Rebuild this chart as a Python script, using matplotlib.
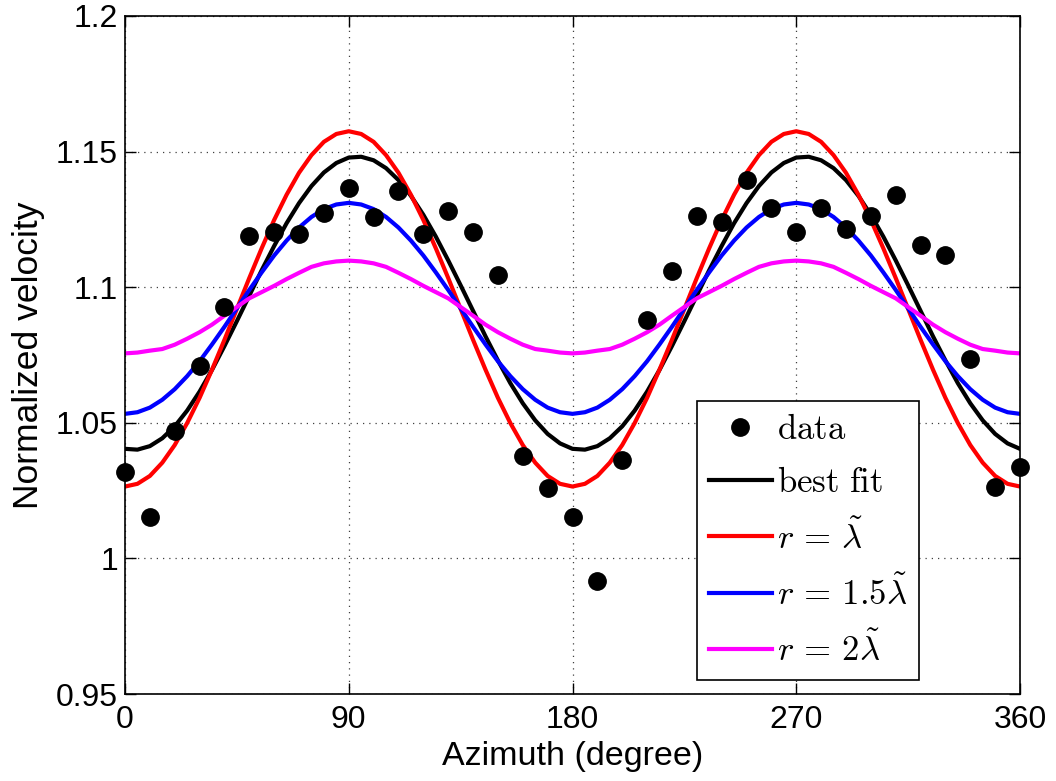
import numpy as np
import matplotlib
matplotlib.use("Agg")
import matplotlib.pyplot as plt

# ---------------- data ----------------
data_azimuth = [0, 10, 20, 30, 40, 50, 60, 70, 80, 90, 100, 110, 120, 130, 140, 150,
                160, 170, 180, 190, 200, 210, 220, 230, 240, 250, 260, 270, 280, 290,
                300, 310, 320, 330, 340, 350, 360]
data_velocity = [1.0317, 1.0151, 1.0471, 1.0710, 1.0927, 1.1187, 1.1205, 1.1197, 1.1273,
                 1.1367, 1.1258, 1.1353, 1.1197, 1.1281, 1.1202, 1.1046, 1.0376, 1.0259,
                 1.0151, 0.9915, 1.0364, 1.0880, 1.1060, 1.1261, 1.1242, 1.1396, 1.1292,
                 1.1203, 1.1292, 1.1214, 1.1264, 1.1341, 1.1154, 1.1117, 1.0735, 1.0262,
                 1.0337]

curve_azimuth = list(range(0, 361, 5))

best_fit = [1.0404, 1.0401, 1.0414, 1.0443, 1.0487, 1.0545, 1.0615, 1.0695, 1.0783, 1.0875,
            1.0969, 1.1063, 1.1152, 1.1236, 1.1310, 1.1373, 1.1423, 1.1458, 1.1478, 1.1481,
            1.1468, 1.1439, 1.1395, 1.1337, 1.1267, 1.1187, 1.1099, 1.1007, 1.0913, 1.0819,
            1.0730, 1.0646, 1.0572, 1.0509, 1.0459, 1.0424, 1.0404,
            1.0401, 1.0414, 1.0443, 1.0487, 1.0545, 1.0615, 1.0695, 1.0783, 1.0875,
            1.0969, 1.1063, 1.1152, 1.1236, 1.1310, 1.1373, 1.1423, 1.1458, 1.1478, 1.1481,
            1.1468, 1.1439, 1.1395, 1.1337, 1.1267, 1.1187, 1.1099, 1.1007, 1.0913, 1.0819,
            1.0730, 1.0646, 1.0572, 1.0509, 1.0459, 1.0424, 1.0404]

r_1 = [1.0265, 1.0275, 1.0304, 1.0353, 1.0418, 1.0499, 1.0592, 1.0696, 1.0806, 1.0920,
       1.1034, 1.1144, 1.1248, 1.1341, 1.1422, 1.1487, 1.1536, 1.1565, 1.1575, 1.1565,
       1.1536, 1.1487, 1.1422, 1.1341, 1.1248, 1.1144, 1.1034, 1.0920, 1.0806, 1.0696,
       1.0592, 1.0499, 1.0418, 1.0353, 1.0304, 1.0275, 1.0265,
       1.0275, 1.0304, 1.0353, 1.0418, 1.0499, 1.0592, 1.0696, 1.0806, 1.0920,
       1.1034, 1.1144, 1.1248, 1.1341, 1.1422, 1.1487, 1.1536, 1.1565, 1.1575, 1.1565,
       1.1536, 1.1487, 1.1422, 1.1341, 1.1248, 1.1144, 1.1034, 1.0920, 1.0806, 1.0696,
       1.0592, 1.0499, 1.0418, 1.0353, 1.0304, 1.0275, 1.0265]

r_15 = [1.0533, 1.0539, 1.0556, 1.0585, 1.0624, 1.0672, 1.0727, 1.0789, 1.0854, 1.0922,
        1.0990, 1.1055, 1.1117, 1.1172, 1.1220, 1.1259, 1.1288, 1.1305, 1.1311, 1.1305,
        1.1288, 1.1259, 1.1220, 1.1172, 1.1117, 1.1055, 1.0990, 1.0922, 1.0854, 1.0789,
        1.0727, 1.0672, 1.0624, 1.0585, 1.0556, 1.0539, 1.0533,
        1.0539, 1.0556, 1.0585, 1.0624, 1.0672, 1.0727, 1.0789, 1.0854, 1.0922,
        1.0990, 1.1055, 1.1117, 1.1172, 1.1220, 1.1259, 1.1288, 1.1305, 1.1311, 1.1305,
        1.1288, 1.1259, 1.1220, 1.1172, 1.1117, 1.1055, 1.0990, 1.0922, 1.0854, 1.0789,
        1.0727, 1.0672, 1.0624, 1.0585, 1.0556, 1.0539, 1.0533]

r_2 = [1.0756, 1.0759, 1.0766, 1.0772, 1.0788, 1.0810, 1.0834, 1.0862, 1.0895, 1.0927,
       1.0959, 1.0982, 1.1005, 1.1030, 1.1053, 1.1075, 1.1088, 1.1095, 1.1098, 1.1095,
       1.1088, 1.1075, 1.1053, 1.1030, 1.1005, 1.0982, 1.0959, 1.0927, 1.0895, 1.0862,
       1.0834, 1.0810, 1.0788, 1.0772, 1.0766, 1.0759, 1.0756,
       1.0759, 1.0766, 1.0772, 1.0788, 1.0810, 1.0834, 1.0862, 1.0895, 1.0927,
       1.0959, 1.0982, 1.1005, 1.1030, 1.1053, 1.1075, 1.1088, 1.1095, 1.1098, 1.1095,
       1.1088, 1.1075, 1.1053, 1.1030, 1.1005, 1.0982, 1.0959, 1.0927, 1.0895, 1.0862,
       1.0834, 1.0810, 1.0788, 1.0772, 1.0766, 1.0759, 1.0756]

x_ticks = [0, 90, 180, 270, 360]
y_ticks = [0.95, 1.0, 1.05, 1.1, 1.15, 1.2]
y_tick_labels = ["0.95", "1", "1.05", "1.1", "1.15", "1.2"]

# ---------------- fonts ----------------
plt.rcParams['mathtext.fontset'] = 'cm'
plt.rcParams['font.family'] = ['Liberation Sans', 'DejaVu Sans']

# ---------------- figure ----------------
fig = plt.figure(figsize=(10.56, 7.81), dpi=100)
ax = fig.add_axes([125 / 1056, 1 - 694 / 781, (1020 - 125) / 1056, (694 - 16) / 781])

ax.plot(data_azimuth, data_velocity, 'o', color='black', markersize=12.5,
        label=r'$\mathrm{data}$', clip_on=False, zorder=5)
ax.plot(curve_azimuth, best_fit, '-', color='black', lw=3, label=r'$\mathrm{best\ fit}$')
ax.plot(curve_azimuth, r_1, '-', color='#ff0000', lw=3, label=r'$r\,=\,\tilde{\lambda}$')
ax.plot(curve_azimuth, r_15, '-', color='#0000ff', lw=3, label=r'$r\,=\,1.5\tilde{\lambda}$')
ax.plot(curve_azimuth, r_2, '-', color='#ff00ff', lw=3, label=r'$r\,=\,2\tilde{\lambda}$')

ax.set_xlim(0, 360)
ax.set_ylim(0.95, 1.2)
ax.set_xticks(x_ticks)
ax.set_yticks(y_ticks)
ax.set_yticklabels(y_tick_labels, fontsize=23)
ax.set_xticklabels([str(t) for t in x_ticks], fontsize=23)
ax.tick_params(direction='in', length=8, width=1, top=True, right=True, pad=5)
ax.tick_params(axis='x', pad=8)

ax.grid(True, linestyle=(0, (1, 4)), color='0.25', lw=0.9)
for s in ax.spines.values():
    s.set_linewidth(1.2)

ax.set_xlabel('Azimuth (degree)', fontsize=24.5, labelpad=4)
ax.set_ylabel('Normalized velocity', fontsize=25.5, labelpad=8)

leg = ax.legend(loc='upper left', bbox_to_anchor=(697 / 1056, 1 - 401 / 781),
                bbox_transform=fig.transFigure, borderaxespad=0, fontsize=25,
                frameon=True, fancybox=False, framealpha=1, edgecolor='black',
                handlelength=1.8, handletextpad=0.15, labelspacing=0.58,
                borderpad=0.35, numpoints=1)
leg.get_frame().set_linewidth(1.2)

fig.savefig('out.png', dpi=100)
